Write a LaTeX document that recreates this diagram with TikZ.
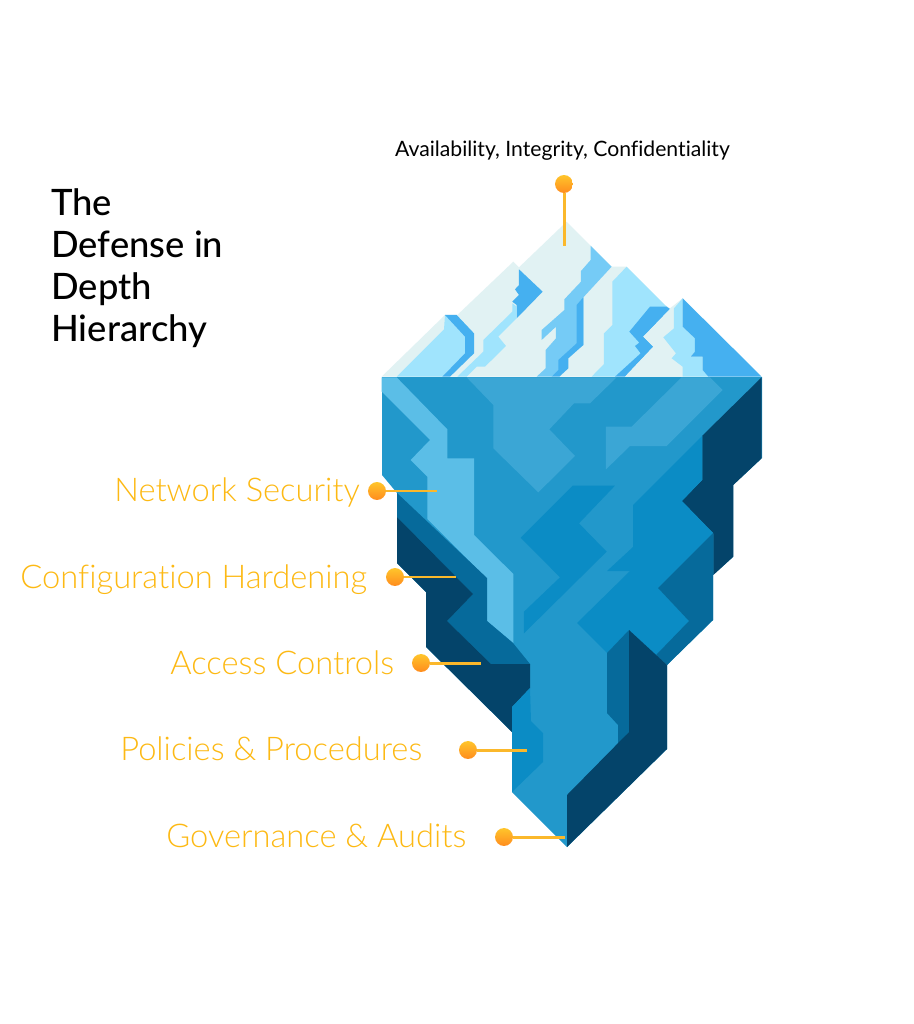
\documentclass[tikz,border=0pt]{standalone}
\usepackage{fontspec}
\setmainfont[Ligatures=NoCommon]{Lato}
\newfontfamily\thinf[Ligatures=NoCommon]{Lato Light}
\newfontfamily\medf[Ligatures=NoCommon]{Lato Medium}
\usetikzlibrary{shadings}
\definecolor{pale}{HTML}{E1F2F3}
\definecolor{lite}{HTML}{A0E4FD}
\definecolor{sky}{HTML}{75CBF6}
\definecolor{azure}{HTML}{45B0F0}
\definecolor{band}{HTML}{5BBEE7}
\definecolor{base}{HTML}{2298CB}
\definecolor{patch}{HTML}{3BA6D5}
\definecolor{mid}{HTML}{0B8CC5}
\definecolor{deep}{HTML}{066A9B}
\definecolor{abyss}{HTML}{04446A}
\definecolor{gold}{HTML}{FBB82B}
\definecolor{dotA}{HTML}{FFC52B}
\definecolor{dotB}{HTML}{FF8C1E}
\definecolor{labelgold}{HTML}{FDB913}
\tikzset{
  ice/.style={fill=#1,draw=none},
  dotnode/.style={circle,minimum size=10.2pt,inner sep=0pt,draw=none,top color=dotA,bottom color=dotB},
  leader/.style={draw=gold,line width=1.7pt},
  lbl/.style={anchor=base west,inner sep=0pt,text=labelgold,font=\thinf\fontsize{18.6}{20}\selectfont},
  ttl/.style={anchor=base west,inner sep=0pt,text=black,font=\medf\fontsize{20.7}{22}\selectfont},
  top1/.style={inner sep=0pt,text=black,font=\fontsize{12.05}{14}\selectfont}
}
\begin{document}
\begin{tikzpicture}[x=0.02cm,y=-0.02cm]
\useasboundingbox[fill=white] (0,0) rectangle (913,1024);
% above water (zoom coordinates)
\begin{scope}[shift={(370,210)},x=0.0066667cm,y=-0.0066667cm]
\fill[ice=pale] (35,500)--(225,315)--(262,315)--(430,155)--(447,172)--(590,35)--(725,170)--(770,170)--(885,285)--(900,295)--(938,265)--(1175,500)--cycle;
\fill[ice=lite] (225,315)--(285,380)--(285,430)--(217,500)--(80,500)--(222,358)--cycle;
\fill[ice=azure] (225,315)--(260,315)--(312,370)--(312,430)--(240,500)--(217,500)--(285,430)--(285,380)--cycle;
\fill[ice=azure] (447,178)--(518,245)--(440,325)--(440,285)--(427,275)--(447,255)--(435,238)--(447,225)--cycle;
\fill[ice=lite] (427,280)--(440,290)--(440,325)--(385,380)--(408,408)--(345,470)--(320,470)--(290,500)--(262,500)--(340,425)--(340,390)--(427,305)--cycle;
\fill[ice=sky] (662,107)--(725,170)--(640,262)--(640,405)--(567,455)--(567,480)--(545,500)--(500,500)--(527,475)--(527,420)--(558,385)--(558,350)--(515,390)--(515,360)--(583,300)--(583,268)--(633,215)--(633,183)--(662,150)--cycle;
\fill[ice=azure] (640,262)--(620,285)--(620,400)--(565,450)--(565,480)--(545,500)--(568,500)--(595,475)--(595,445)--(640,405)--cycle;
\fill[ice=lite] (770,170)--(890,290)--(780,365)--(850,410)--(735,500)--(665,500)--(702,462)--(702,370)--(727,345)--(727,215)--cycle;
\fill[ice=azure] (840,290)--(890,290)--(900,297)--(820,380)--(850,410)--(765,500)--(735,500)--(812,430)--(795,408)--(808,398)--(778,365)--cycle;
\fill[ice=pale] (820,380)--(900,297)--(912,300)--(912,355)--(880,382)--(918,430)--(905,445)--(938,470)--(938,500)--(765,500)--(850,410)--cycle;
\fill[ice=lite] (938,265)--(912,295)--(912,355)--(880,382)--(918,430)--(905,445)--(938,470)--(938,500)--(1015,500)--(998,480)--(998,440)--(960,440)--(975,425)--(975,385)--(938,350)--cycle;
\fill[ice=azure] (938,265)--(1175,500)--(1015,500)--(998,480)--(998,440)--(962,440)--(975,425)--(975,385)--(938,350)--cycle;
\end{scope}
% under water silhouette
\fill[ice=base] (382,377)--(762,377)--(762,458)--(733,485)--(733,557)--(713,575)--(713,620)--(667,665)--(667,749)--(567,847)--(512,792)--(512,732)--(426,647)--(426,592)--(397,563)--(397,493)--(382,475)--cycle;
\begin{scope}[shift={(370,370)},x=0.0066667cm,y=-0.0066667cm]
\fill[ice=band] (35,22)--(80,22)--(232,178)--(232,265)--(312,265)--(312,495)--(430,612)--(430,819)--(351,753)--(350,625)--(172,447)--(172,320)--(122,270)--(180,210)--(35,65)--cycle;
\fill[ice=patch] (290,22)--(740,22)--(660,100)--(612,100)--(538,178)--(615,258)--(505,367)--(370,235)--(370,105)--cycle;
\fill[ice=patch] (935,22)--(1020,22)--(1058,60)--(890,228)--(780,228)--(708,298)--(708,170)--(785,170)--cycle;
\fill[ice=abyss] (1175,22)--(1175,265)--(1090,345)--(1090,560)--(1030,615)--(1030,490)--(935,393)--(997,330)--(997,197)--cycle;
\fill[ice=mid] (608,347)--(735,347)--(627,460)--(710,545)--(462,790)--(462,725)--(570,622)--(452,503)--cycle;
\end{scope}
\fill[ice=mid] (702,436)--(633,505)--(633,547)--(607,571)--(630,571)--(577,623)--(607,653)--(629,630)--(656,655)--(689,621)--(658,588)--(713,533)--(682,501)--(702,480)--cycle;
\fill[ice=deep] (713,533)--(713,620)--(667,665)--(656,655)--(689,621)--(658,588)--cycle;
\fill[ice=deep] (397,493)--(487,578)--(487,621)--(513,643)--(530,664)--(491,664)--(447,621)--(473,594)--(397,517)--cycle;
\fill[ice=abyss] (397,517)--(473,594)--(447,621)--(491,664)--(530,664)--(530,688)--(512,707)--(512,732)--(426,647)--(426,592)--(397,563)--cycle;
\fill[ice=mid] (530,688)--(512,707)--(512,792)--(543,762)--(543,733)--(531,721)--cycle;
\fill[ice=deep] (607,653)--(629,630)--(629,732)--(618,744)--(618,725)--(607,713)--cycle;
\fill[ice=abyss] (629,630)--(667,665)--(667,749)--(567,847)--(567,795)--(629,732)--cycle;
% connectors
\node[dotnode] (d0) at (564,184) {};
\coordinate (e0) at (564,246);
\node[dotnode] (d1) at (377,491) {};
\coordinate (e1) at (437,491);
\node[dotnode] (d2) at (395,577) {};
\coordinate (e2) at (456,577);
\node[dotnode] (d3) at (421,663) {};
\coordinate (e3) at (481,663);
\node[dotnode] (d4) at (468,750) {};
\coordinate (e4) at (527,750);
\node[dotnode] (d5) at (504,837) {};
\coordinate (e5) at (565,837);
\draw[leader] (d0)--(e0);
\draw[leader] (d1)--(e1);
\draw[leader] (d2)--(e2);
\draw[leader] (d3)--(e3);
\draw[leader] (d4)--(e4);
\draw[leader] (d5)--(e5);
% text
\node[top1] (t0) at (562.5,151) {Availability, Integrity, Confidentiality};
\node[ttl] (h1) at (51,215) {The};
\node[ttl] (h2) at (51,257) {Defense in};
\node[ttl] (h3) at (51,299) {Depth};
\node[ttl] (h4) at (51,341) {Hierarchy};
\node[lbl] (l1) at (114,501) {Network Security};
\node[lbl] (l2) at (20,588) {Configuration Hardening};
\node[lbl] (l3) at (170,674) {Access Controls};
\node[lbl] (l4) at (120,760) {Policies \& Procedures};
\node[lbl] (l5) at (166,847) {Governance \& Audits};
\end{tikzpicture}
\end{document}
